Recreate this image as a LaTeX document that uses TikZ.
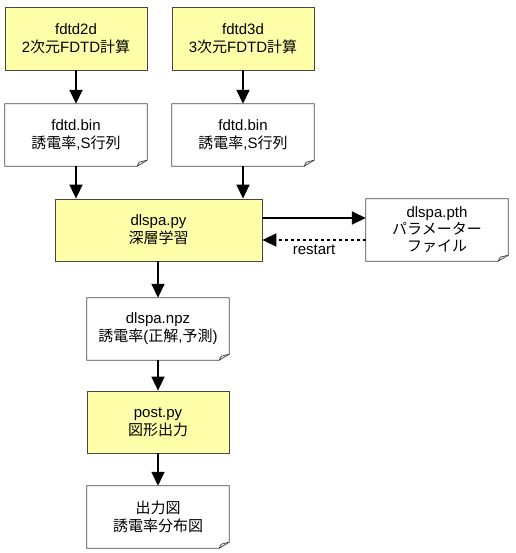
\documentclass[tikz,border=0pt]{standalone}
\usepackage{fontspec}
\setmainfont{Liberation Sans}
\newfontfamily\ja{Noto Sans CJK JP}
\usepackage{xcolor}
\usetikzlibrary{calc, positioning, arrows.meta}
\definecolor{procfill} {RGB}{255, 255, 170}
\definecolor{boxline}  {RGB}{70,  70,  70}

\tikzset{
  every node/.style={font=\fontsize{15}{18}\selectfont, align=center},
  procbox/.style={draw=boxline, fill=procfill, line width=0.8pt,
    minimum width=142pt, minimum height=63pt, inner sep=0pt},
  docbox/.style={minimum width=142pt, minimum height=62pt, inner sep=0pt,
    append after command={\pgfextra{\let\dn\tikzlastnode
      \draw[boxline, line width=0.8pt] (\dn.north west) -- (\dn.north east)
        -- ($(\dn.south east)+(0,6pt)$) -- ($(\dn.south east)+(-10pt,0)$)
        -- (\dn.south west) -- cycle;
      \draw[boxline, line width=0.8pt] ($(\dn.south east)+(-10pt,0)$)
        -- ($(\dn.south east)+(-8pt,4pt)$) -- ($(\dn.south east)+(0,6pt)$);}}},
  flow/.style={line width=1.6pt, -{Triangle[length=14pt, width=13pt]}},
}

\begin{document}
\begin{tikzpicture}[x=1pt, y=1pt]
  \useasboundingbox (0,0) rectangle (515,-553);

  % calculation
  \node[procbox] (fdtdtwo) at (76,-38.5)
       {fdtd2d\\2{\ja 次元}FDTD{\ja 計算}};
  \node[procbox] (fdtdthree) at (243,-38.5)
       {fdtd3d\\3{\ja 次元}FDTD{\ja 計算}};
  \node[docbox] (bintwo) at (76,-135)
       {fdtd.bin\\{\ja 誘電率},S{\ja 行列}};
  \node[docbox] (binthree) at (243,-135)
       {fdtd.bin\\{\ja 誘電率},S{\ja 行列}};

  % learning
  \node[procbox, minimum width=207pt, minimum height=62pt] (learn) at (158.5,-230)
       {dlspa.py\\{\ja 深層学習}};
  \node[docbox, font=\fontsize{15}{17}\selectfont] (param) at (437,-230)
       {dlspa.pth\\{\ja パラメーター}\\{\ja ファイル}};
  \node[docbox] (npz) at (158,-329)
       {dlspa.npz\\{\ja 誘電率}({\ja 正解},{\ja 予測})};

  % post
  \node[procbox, minimum height=62pt] (post) at (158,-422)
       {post.py\\{\ja 図形出力}};
  \node[docbox] (figout) at (158,-517)
       {{\ja 出力図}\\{\ja 誘電率分布図}};

  \draw[flow] (fdtdtwo) -- (bintwo);
  \draw[flow] (fdtdthree) -- (binthree);
  \draw[flow] (bintwo.south) -- (bintwo.south |- learn.north);
  \draw[flow] (binthree.south) -- (binthree.south |- learn.north);
  \draw[flow] ([yshift=12pt]learn.east) -- ([yshift=12pt]param.west);
  \draw[flow, dashed] ([yshift=-10pt]param.west) -- ([yshift=-10pt]learn.east)
       node[midway, below=1pt] {restart};
  \draw[flow] (learn.south -| npz.north) -- (npz.north);
  \draw[flow] (npz) -- (post);
  \draw[flow] (post) -- (figout);
\end{tikzpicture}
\end{document}
